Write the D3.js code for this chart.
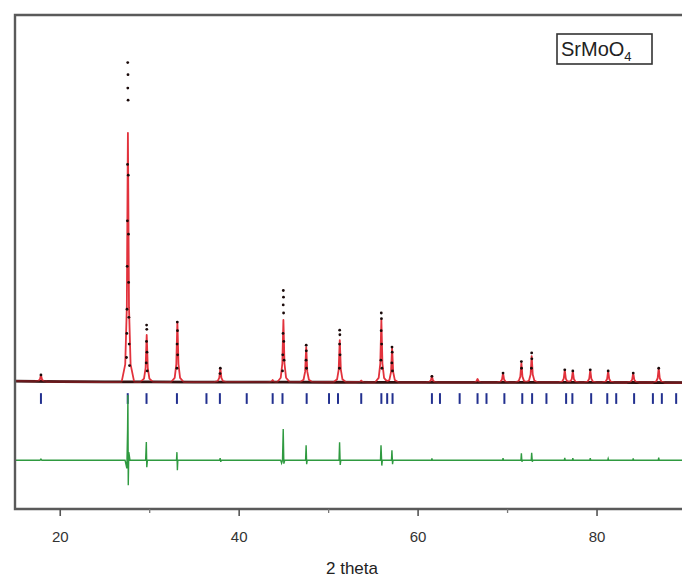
<!DOCTYPE html>
<html>
<head>
<meta charset="utf-8">
<script src="https://cdn.jsdelivr.net/npm/d3@7"></script>
<style>
  body { margin: 0; background: #fff; }
  text { font-family: Arial, "Liberation Sans", sans-serif; }
</style>
</head>
<body>
<script>
// background (observed) along 2 theta
const bgPos = [15, 20, 25, 30, 35, 40, 45, 50, 55, 60, 65, 70, 75, 80, 85, 90];
const bgObs = [520, 500, 495, 490, 485, 480, 482, 478, 476, 475, 474, 472, 470, 470, 468, 466];

// reflections: position, calculated top
const peakPos  = [17.9, 27.62, 29.72, 33.15, 37.95, 43.8, 45.0, 47.55, 51.3, 53.7, 55.95, 57.15, 61.6, 66.7, 69.55, 71.6, 72.75, 76.45, 77.35, 79.3, 81.3, 84.1, 86.95];
const calcTop  = [740, 9780, 2240, 2720, 1000, 560, 2800, 1790, 2050, 540, 2800, 1750, 710, 600, 820, 1190, 1455, 930, 895, 930, 895, 820, 1000];

// observed points visible around the peaks
const dotPos = [17.9,
  27.60, 27.63, 27.61, 27.64, 27.58, 27.66, 27.56, 27.68, 27.54, 27.70, 27.52, 27.73, 27.50, 27.76, 27.46, 27.80,
  29.71, 29.73, 29.70, 29.75, 29.67, 29.78,
  33.14, 33.16, 33.12, 33.18, 33.10,
  37.95, 37.92,
  44.99, 45.01, 44.98, 45.02, 44.96, 45.04, 44.93, 45.07, 44.90,
  47.55, 47.56, 47.53, 47.58,
  51.29, 51.31, 51.28, 51.33, 51.26,
  55.94, 55.96, 55.93, 55.98, 55.90, 56.01,
  57.14, 57.16, 57.12, 57.19,
  61.6, 69.55, 71.6, 71.62, 72.75, 72.77, 72.72, 76.45, 77.35, 79.3, 81.3, 84.1, 86.95];
const dotObs = [750,
  12400, 11950, 11450, 11000, 8600, 8200, 6500, 6000, 4800, 4200, 3200, 2900, 2300, 1900, 1400, 1100,
  2610, 2450, 2000, 1600, 1200, 900,
  2720, 2400, 1900, 1500, 1000,
  1000, 800,
  3900, 3650, 3360, 3060, 2300, 2000, 1500, 1300, 900,
  1860, 1650, 1300, 1000,
  2420, 2250, 1900, 1500, 1000,
  3060, 2850, 2400, 1900, 1300, 1000,
  1790, 1600, 1200, 900,
  700, 820, 1250, 1000, 1570, 1350, 1000, 940, 900, 940, 900, 820, 1000];

// Bragg positions
const braggPos = [17.9, 27.6, 29.7, 33.1, 36.4, 37.9, 40.9, 43.8, 44.9, 47.6, 50.1, 51.1, 53.7, 55.95, 56.6, 57.2,
  61.6, 62.5, 64.7, 66.7, 67.7, 69.7, 71.7, 72.8, 74.4, 76.6, 77.3, 79.4, 81.2, 82.2, 84.2, 86.3, 87.3, 88.9];

// difference (obs - calc)
const diffPos = [15, 17.8, 17.9, 18.0, 27.3, 27.5, 27.58, 27.62, 27.66, 27.72, 27.85,
  29.6, 29.68, 29.73, 29.8, 33.05, 33.1, 33.15, 33.2, 37.88, 37.93, 38.0, 38.05,
  44.7, 44.8, 44.9, 44.98, 45.05, 45.15, 47.48, 47.54, 47.6, 47.66,
  51.22, 51.28, 51.35, 51.42, 55.85, 55.91, 56.0, 56.06, 57.08, 57.13, 57.2, 57.26,
  61.55, 61.6, 61.65, 69.5, 69.55, 69.6, 71.55, 71.6, 71.66, 71.72, 72.7, 72.75, 72.82, 72.9,
  76.4, 76.45, 76.5, 77.3, 77.35, 77.4, 79.25, 79.3, 79.35, 81.25, 81.3, 81.35,
  84.05, 84.1, 84.15, 86.9, 86.95, 87.0, 90];
const diffVal = [0, 0, 40, 0, 0, -300, 1100, 2430, -930, 300, 0,
  0, 680, -260, 0, 0, 300, -370, 0, 0, 80, -60, 0,
  0, -110, 0, 1160, -130, 0, 0, 560, -150, 0,
  0, 670, -180, 0, 0, 560, -200, 0, 0, 370, -150, 0,
  0, 70, 0, 0, 80, 0, 0, 260, -60, 0, 0, 280, -60, 0,
  0, 90, 0, 0, 80, 0, 0, 80, 0, 0, 60, 0,
  0, 70, 0, 0, 100, 0, 0];

const xTicks = [20, 40, 60, 80];
const xMinor = [30, 50, 70, 90];

const W = 682, H = 578;
const mLeft = 15, mTop = 15, mBottom = 509;

const x = d3.scaleLinear().domain([15, 90]).range([15, 686]);
const y = d3.scaleLinear().domain([-4250, 14175]).range([mBottom, mTop]);

const bg = d3.scaleLinear().domain(bgPos).range(bgObs);
// line shape of a single reflection (degrees, fraction of height)
const shapeOff = [-0.7, -0.3, -0.12, -0.04, 0, 0.04, 0.12, 0.3, 0.7];
const shapeFr  = [0, 0.07, 0.3, 0.78, 1, 0.78, 0.3, 0.07, 0];
const shape = d3.scaleLinear().domain(shapeOff).range(shapeFr).clamp(true);

let xs = bgPos.slice();
peakPos.forEach(p => shapeOff.forEach(o => xs.push(p + o)));
xs = Array.from(new Set(xs.map(v => +v.toFixed(3)))).sort((a, b) => a - b);
const calc = xs.map(v => [v, bg(v) + d3.sum(peakPos, (p, i) => (calcTop[i] - bg(p)) * shape(v - p))]);

const diffOffset = -2430;
const braggLo = -330, braggHi = 70;

const svg = d3.select('body').append('svg')
  .attr('width', W).attr('height', H);

svg.append('clipPath').attr('id', 'clip')
  .append('rect').attr('x', mLeft).attr('y', mTop).attr('width', W - mLeft).attr('height', mBottom - mTop);

const g = svg.append('g').attr('clip-path', 'url(#clip)');

const line = d3.line().x(d => x(d[0])).y(d => y(d[1]));

// observed background
g.append('path').datum(bgPos.map((p, i) => [p, bgObs[i]]))
  .attr('fill', 'none').attr('stroke', '#2a0e0e').attr('stroke-width', 2.8)
  .attr('d', line);

// calculated
g.append('path').datum(calc)
  .attr('fill', 'none').attr('stroke', '#e2323c').attr('stroke-width', 1.8)
  .attr('stroke-linejoin', 'round')
  .attr('d', line);

// observed background again, over the calc line base
g.append('path').datum(bgPos.map((p, i) => [p, bgObs[i]]))
  .attr('fill', 'none').attr('stroke', '#3a1212').attr('stroke-width', 1.6).attr('opacity', 0.75)
  .attr('d', line);

// observed points
g.selectAll('circle.obs')
  .data(dotPos.map((p, i) => [p, dotObs[i]]))
  .join('circle')
  .attr('class', 'obs')
  .attr('cx', d => x(d[0])).attr('cy', d => y(d[1]))
  .attr('r', 1.4).attr('fill', '#1a0a0a');

// Bragg ticks
g.selectAll('line.bragg')
  .data(braggPos)
  .join('line')
  .attr('class', 'bragg')
  .attr('x1', d => x(d)).attr('x2', d => x(d))
  .attr('y1', y(braggHi)).attr('y2', y(braggLo))
  .attr('stroke', '#22308f').attr('stroke-width', 2);

// difference
g.append('path').datum(diffPos.map((p, i) => [p, diffVal[i] + diffOffset]))
  .attr('fill', 'none').attr('stroke', '#2f9a40').attr('stroke-width', 1.4)
  .attr('d', line);

// frame
svg.append('path')
  .attr('d', `M${W + 5},${mTop}H${mLeft}V${mBottom}H${W + 5}`)
  .attr('fill', 'none').attr('stroke', '#5a5a5a').attr('stroke-width', 2.4);

// x axis
const ax = svg.append('g').attr('transform', `translate(0,${mBottom})`)
  .call(d3.axisBottom(x).tickValues(xTicks).tickSize(7).tickPadding(15).tickFormat(d3.format('d')));
ax.select('.domain').remove();
ax.selectAll('line').attr('stroke', '#555').attr('stroke-width', 1.6);
ax.selectAll('text').attr('font-size', 15).attr('fill', '#333');

const axm = svg.append('g').attr('transform', `translate(0,${mBottom})`)
  .call(d3.axisBottom(x).tickValues(xMinor).tickSize(4).tickFormat(''));
axm.select('.domain').remove();
axm.selectAll('line').attr('stroke', '#777').attr('stroke-width', 1.3);

svg.append('text')
  .attr('x', 352).attr('y', 574)
  .attr('text-anchor', 'middle').attr('font-size', 17).attr('fill', '#222')
  .text('2 theta');

// sample label
const lab = svg.append('g');
lab.append('rect')
  .attr('x', 557).attr('y', 34).attr('width', 95).attr('height', 30)
  .attr('fill', '#fff').attr('stroke', '#333').attr('stroke-width', 1.6);
const t = lab.append('text').attr('x', 561).attr('y', 56).attr('font-size', 20).attr('fill', '#222');
t.append('tspan').text('SrMoO');
t.append('tspan').attr('font-size', 13).attr('dy', 5).text('4');
</script>
</body>
</html>
